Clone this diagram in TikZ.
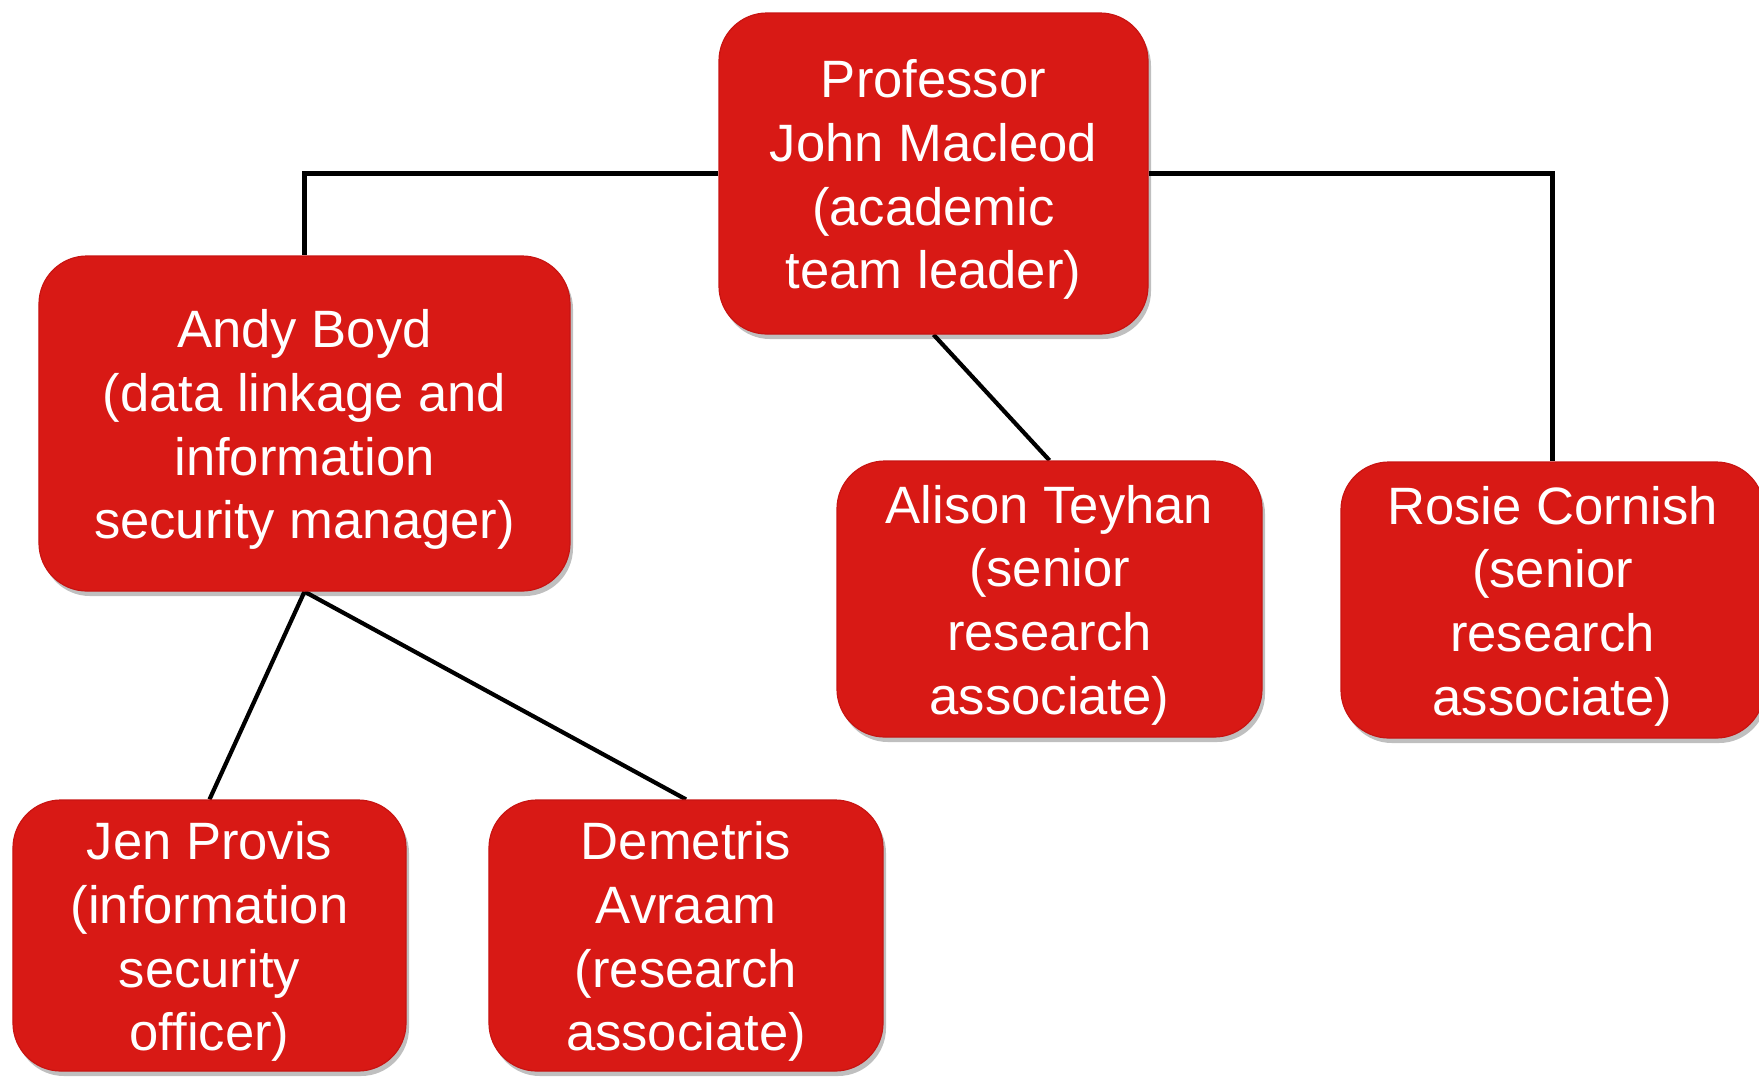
\documentclass[tikz,border=0pt]{standalone}
\usepackage{fontspec}
\setmainfont{Liberation Sans}
\usetikzlibrary{shadows,backgrounds}
\definecolor{boxred}{RGB}{216,25,21}
\definecolor{boxedge}{RGB}{200,20,18}
\newcommand\boxlines[1]{\raisebox{-3.5bp}[\height][\depth]{\begin{tabular}{@{}c@{}}#1\end{tabular}}}
\tikzset{
  orgbox/.style={rectangle, rounded corners=24bp, fill=boxred, draw=boxedge, line width=0.6bp,
    text=white, align=center, inner sep=0pt,
    font=\fontsize{26.3bp}{31.8bp}\selectfont,
    drop shadow={shadow xshift=1.5bp, shadow yshift=-2.5bp, opacity=0.25, fill=black}},
  link/.style={draw=black, line width=2.1bp}
}
\begin{document}
\begin{tikzpicture}[x=0.5bp,y=-0.5bp]
\useasboundingbox (0,0) rectangle (1759,1076);
\node[orgbox, minimum width=214.5bp, minimum height=160.5bp] (top) at (933.5,173.5)
  {\boxlines{Professor\\John Macleod\\(academic\\team leader)}};
\node[orgbox, minimum width=265.5bp, minimum height=167.5bp] (andy) at (304.5,423.5)
  {\boxlines{Andy Boyd\\(data linkage and\\information\\security manager)}};
\node[orgbox, minimum width=212.5bp, minimum height=138bp] (alison) at (1049.5,599)
  {\boxlines{Alison Teyhan\\(senior\\research\\associate)}};
\node[orgbox, minimum width=211.5bp, minimum height=138bp] (rosie) at (1552.5,600)
  {\boxlines{Rosie Cornish\\(senior\\research\\associate)}};
\node[orgbox, minimum width=196.5bp, minimum height=135.5bp] (jen) at (209.5,935.5)
  {\boxlines{Jen Provis\\(information\\security\\officer)}};
\node[orgbox, minimum width=197bp, minimum height=135.5bp] (dem) at (686,935.5)
  {\boxlines{Demetris\\Avraam\\(research\\associate)}};
\begin{scope}[on background layer]
\draw[link] (top.west) -| (andy.north);
\draw[link] (top.east) -| (rosie.north);
\draw[link] (top.south) -- (alison.north);
\draw[link] (andy.south) -- (jen.north);
\draw[link] (andy.south) -- (dem.north);
\end{scope}
\end{tikzpicture}
\end{document}
